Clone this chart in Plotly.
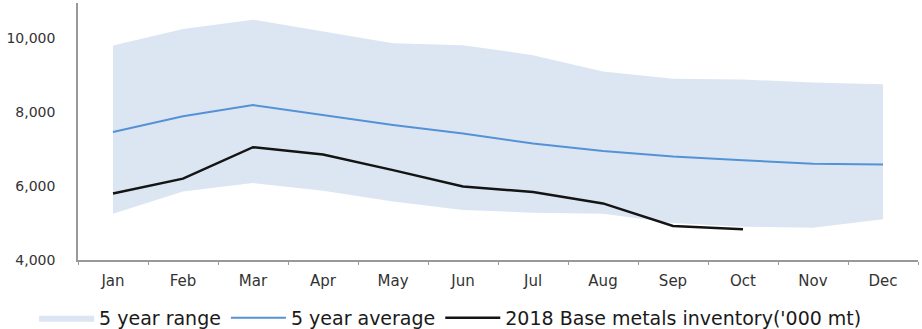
import plotly.graph_objects as go

months = ["Jan", "Feb", "Mar", "Apr", "May", "Jun", "Jul", "Aug", "Sep", "Oct", "Nov", "Dec"]
range_upper = [9800, 10250, 10500, 10170, 9860, 9810, 9540, 9100, 8900, 8880, 8800, 8750]
range_lower = [5250, 5850, 6080, 5870, 5580, 5350, 5280, 5250, 5000, 4900, 4870, 5100]
avg_5yr = [7460, 7890, 8190, 7920, 7650, 7420, 7150, 6950, 6800, 6700, 6600, 6580]
inv_2018 = [5800, 6200, 7050, 6850, 6430, 5990, 5840, 5530, 4920, 4830]
y_ticks = [4000, 6000, 8000, 10000]

band_color = "rgb(220,230,243)"
font_family = "DejaVu Sans, Arial, sans-serif"

fig = go.Figure()
fig.add_trace(go.Scatter(x=months, y=range_lower, mode="lines", line=dict(width=0, color=band_color),
                         showlegend=False, hoverinfo="skip"))
fig.add_trace(go.Scatter(x=months, y=range_upper, mode="lines", line=dict(width=0, color=band_color),
                         fill="tonexty", fillcolor=band_color, name="5 year range"))
fig.add_trace(go.Scatter(x=months, y=avg_5yr, mode="lines", line=dict(width=2, color="rgb(84,146,214)"),
                         name="5 year average"))
fig.add_trace(go.Scatter(x=months[:len(inv_2018)], y=inv_2018, mode="lines",
                         line=dict(width=2.5, color="rgb(20,20,20)"),
                         name="2018 Base metals inventory('000 mt)"))

fig.update_layout(
    width=922, height=329,
    margin=dict(l=78, r=4, t=3, b=69),
    plot_bgcolor="white", paper_bgcolor="white",
    font=dict(family=font_family, color="#222"),
    legend=dict(orientation="h", traceorder="normal", xref="container", yref="container",
                x=0.037, y=0.034, xanchor="left", yanchor="middle",
                font=dict(size=19, color="#1a1a1a"),
                itemwidth=55, tracegroupgap=0, bgcolor="rgba(0,0,0,0)"),
    xaxis=dict(showgrid=False, showline=True, linecolor="#999", linewidth=1.5,
               ticks="outside", tickson="boundaries", ticklen=3, tickcolor="#999",
               ticklabelstandoff=6,
               tickfont=dict(size=15, color="#333"), range=[-0.5, 11.5]),
    yaxis=dict(showgrid=False, showline=True, linecolor="#999", linewidth=1.5,
               range=[4000, 10950], tickvals=y_ticks, tickformat=",", ticks="",
               ticklabelstandoff=18,
               tickfont=dict(size=14, color="#333"), zeroline=False),
)

fig.write_html("out.html", config={"displayModeBar": False},
               post_script="document.body.style.margin='0';")
